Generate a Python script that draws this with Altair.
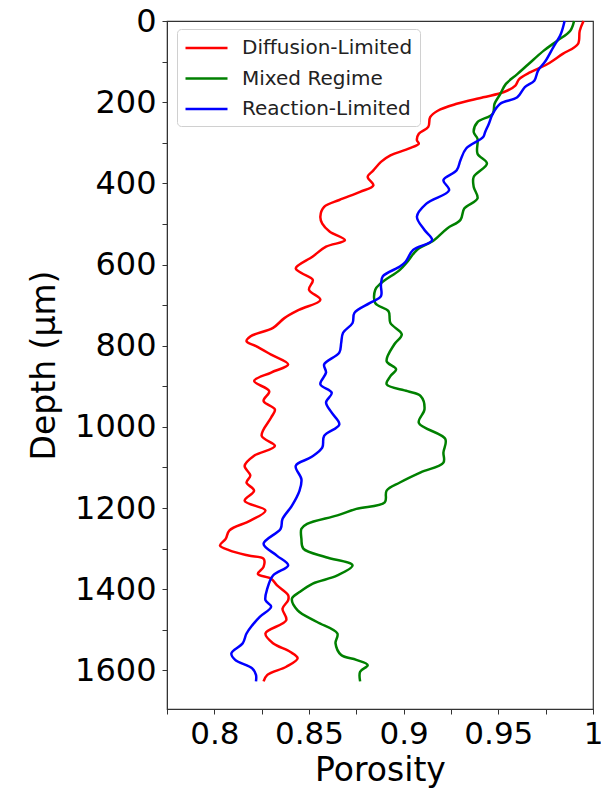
import altair as alt
import pandas as pd

series_names = ["Diffusion-Limited", "Mixed Regime", "Reaction-Limited"]
series_colors = ["#ff0000", "#008000", "#0000ff"]

diff_depth = [0, 24, 57, 81, 106, 126, 143, 159, 175, 188, 204, 221, 237, 261, 278, 294, 302, 314, 331, 347,
              368, 384, 405, 421, 441, 458, 482, 499, 519, 540, 556, 580, 609, 621, 638, 662, 687, 711, 732, 756,
              777, 789, 801, 822, 846, 866, 887, 912, 936, 957, 977, 1022, 1047, 1071, 1096, 1120, 1137, 1157,
              1182, 1206, 1231, 1255, 1276, 1292, 1304, 1317, 1325, 1345, 1362, 1374, 1390, 1415, 1427, 1448,
              1476, 1509, 1533, 1554, 1570, 1591, 1611, 1627]
diff_poro = [0.995, 0.993, 0.992, 0.984, 0.976, 0.967, 0.961, 0.959, 0.953, 0.942, 0.928, 0.918, 0.914, 0.913,
             0.908, 0.907, 0.908, 0.903, 0.893, 0.888, 0.884, 0.881, 0.884, 0.877, 0.866, 0.858, 0.856, 0.857,
             0.861, 0.869, 0.859, 0.852, 0.843, 0.846, 0.852, 0.850, 0.856, 0.845, 0.837, 0.831, 0.819, 0.817,
             0.822, 0.830, 0.839, 0.830, 0.821, 0.829, 0.826, 0.832, 0.830, 0.825, 0.832, 0.821, 0.816, 0.819,
             0.817, 0.821, 0.816, 0.827, 0.819, 0.808, 0.806, 0.803, 0.808, 0.818, 0.826, 0.826, 0.823, 0.830,
             0.833, 0.839, 0.839, 0.836, 0.838, 0.827, 0.831, 0.840, 0.844, 0.838, 0.828, 0.826]

mixed_depth = [0, 24, 49, 73, 106, 131, 155, 180, 204, 229, 249, 274, 290, 327, 351, 384, 409, 437, 462, 490,
               511, 540, 564, 593, 613, 646, 662, 695, 715, 744, 772, 797, 838, 858, 875, 895, 912, 924, 957,
               990, 1030, 1063, 1088, 1112, 1137, 1157, 1186, 1202, 1218, 1239, 1251, 1276, 1300, 1321, 1341,
               1366, 1386, 1407, 1423, 1452, 1480, 1509, 1533, 1562, 1574, 1587, 1603, 1627]
mixed_poro = [0.990, 0.988, 0.981, 0.974, 0.966, 0.960, 0.954, 0.951, 0.948, 0.947, 0.939, 0.937, 0.939, 0.939,
              0.944, 0.937, 0.937, 0.939, 0.932, 0.930, 0.923, 0.916, 0.907, 0.902, 0.898, 0.888, 0.885, 0.885,
              0.892, 0.893, 0.899, 0.895, 0.891, 0.896, 0.893, 0.891, 0.902, 0.909, 0.911, 0.908, 0.922, 0.921,
              0.921, 0.909, 0.898, 0.891, 0.890, 0.875, 0.865, 0.849, 0.846, 0.846, 0.847, 0.859, 0.873, 0.865,
              0.852, 0.845, 0.841, 0.844, 0.854, 0.865, 0.864, 0.867, 0.875, 0.881, 0.877, 0.877]

react_depth = [0, 32, 65, 98, 122, 147, 163, 188, 204, 229, 253, 274, 286, 314, 343, 368, 392, 417, 450, 482,
               515, 540, 564, 593, 605, 629, 650, 678, 695, 719, 744, 768, 793, 817, 846, 866, 895, 916, 940,
               965, 994, 1022, 1051, 1075, 1096, 1129, 1157, 1194, 1227, 1251, 1288, 1317, 1341, 1366, 1398,
               1427, 1443, 1468, 1489, 1509, 1533, 1558, 1574, 1595, 1611, 1627]
react_poro = [0.985, 0.983, 0.979, 0.975, 0.971, 0.969, 0.964, 0.960, 0.951, 0.947, 0.945, 0.943, 0.942, 0.933,
              0.930, 0.928, 0.921, 0.924, 0.912, 0.907, 0.911, 0.915, 0.905, 0.901, 0.898, 0.889, 0.888, 0.888,
              0.882, 0.874, 0.873, 0.868, 0.867, 0.866, 0.858, 0.859, 0.856, 0.862, 0.859, 0.862, 0.866, 0.858,
              0.857, 0.851, 0.843, 0.846, 0.845, 0.841, 0.836, 0.835, 0.826, 0.833, 0.839, 0.831, 0.828, 0.827,
              0.830, 0.824, 0.820, 0.817, 0.815, 0.809, 0.811, 0.820, 0.822, 0.822]

x_ticks = [0.775, 0.8, 0.825, 0.85, 0.875, 0.9, 0.925, 0.95, 0.975, 1.0]
y_ticks = list(range(0, 1700, 100))

rows = []
for name, depths, poros in [(series_names[0], diff_depth, diff_poro),
                            (series_names[1], mixed_depth, mixed_poro),
                            (series_names[2], react_depth, react_poro)]:
    for i, (d, p) in enumerate(zip(depths, poros)):
        rows.append({"series": name, "depth": d, "porosity": p, "order": i})
df = pd.DataFrame(rows)

FONT = "DejaVu Sans"

chart = alt.Chart(df).mark_line(strokeWidth=2.5, interpolate="catmull-rom").encode(
    x=alt.X("porosity:Q",
            scale=alt.Scale(domain=[0.775, 1.0], nice=False, zero=False),
            axis=alt.Axis(title="Porosity", values=x_ticks,
                          labelExpr="(round(datum.value*1000) % 50 == 0) ? format(datum.value, '.2~f') : ''",
                          grid=False, tickSize=5, labelPadding=5, labelFontSize=31, titleFontSize=33,
                          titleFontWeight="normal", labelFont=FONT, titleFont=FONT,
                          labelColor="black", titleColor="black", domainColor="#333",
                          tickColor="#333", titlePadding=5, labelFlush=False, labelOverlap=False)),
    y=alt.Y("depth:Q",
            scale=alt.Scale(domain=[0, 1695], reverse=True, nice=False, zero=False),
            axis=alt.Axis(title="Depth (µm)", values=y_ticks, format="d",
                          labelExpr="datum.value % 200 == 0 ? datum.label : ''",
                          grid=False, tickSize=5, labelPadding=6, labelFontSize=32, titleFontSize=33,
                          titleFontWeight="normal", labelFont=FONT, titleFont=FONT,
                          labelColor="black", titleColor="black", domainColor="#333",
                          tickColor="#333", titlePadding=13, labelFlush=False, labelOverlap=False)),
    color=alt.Color("series:N",
                    scale=alt.Scale(domain=series_names, range=series_colors),
                    legend=alt.Legend(title=None, orient="none", legendX=10, legendY=8,
                                      symbolType="M-1,0H3", symbolSize=441, symbolStrokeWidth=2.5,
                                      labelFontSize=20, labelFont=FONT, labelColor="#222",
                                      labelOffset=34, labelLimit=0, rowPadding=8.5, padding=7,
                                      fillColor="white", strokeColor="#d0d0d0", cornerRadius=4)),
    order="order:Q",
    detail="series:N",
).properties(
    width=426, height=688,
    autosize="none",
    background="white",
    padding={"left": 159, "top": 13, "right": 8, "bottom": 79},
).configure_view(stroke="#333", strokeWidth=1.2)

chart.save("out.html", embed_options={"renderer": "svg", "actions": False})
